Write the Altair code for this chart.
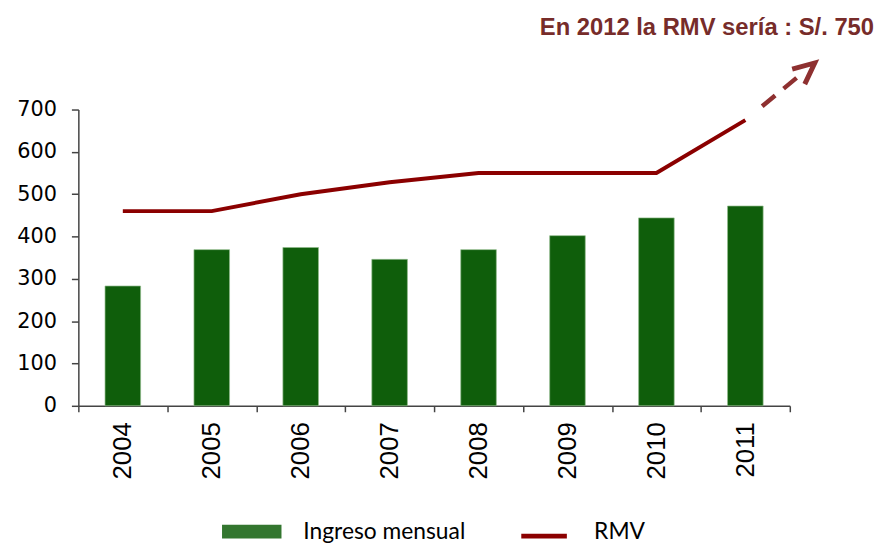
import altair as alt
import pandas as pd

# ---- data ----
years = [2004, 2005, 2006, 2007, 2008, 2009, 2010, 2011]
ingreso = [283, 369, 374, 346, 369, 402, 444, 472]
rmv = [460, 460, 500, 528, 550, 550, 550, 675]
proj_years = [2011, 2011.78]
proj_values = [675, 810]
y_ticks = [0, 100, 200, 300, 400, 500, 600, 700]
x_edges = [2003.5, 2004.5, 2005.5, 2006.5, 2007.5, 2008.5, 2009.5, 2010.5, 2011.5]
series_bar = ["Ingreso mensual"]
series_line = ["RMV"]
title_text = "En 2012 la RMV sería : S/. 750"

bars_df = pd.DataFrame({"year": years, "value": ingreso, "serie": series_bar[0]})
line_df = pd.DataFrame({"year": years, "value": rmv, "serie": series_line[0]})
proj_df = pd.DataFrame({"year": proj_years, "value": proj_values})
head_df = proj_df.tail(1)

x_scale = alt.Scale(domain=[x_edges[0], x_edges[-1]], nice=False, zero=False)
y_scale = alt.Scale(domain=[0, 700], nice=False)

x_axis = alt.Axis(
    values=x_edges,
    labelExpr="datum.value > 2011 ? '' : format(datum.value + 0.5, 'd')",
    labelOffset=44.875, labelAngle=270, labelFlush=False, labelOverlap=False,
    labelFont="Liberation Sans", labelFontSize=26, labelColor="#000000",
    labelPadding=10, tickSize=6, tickColor="#444444", tickWidth=1.5,
    domainColor="#444444", domainWidth=1.5, grid=False, title=None,
)
y_axis = alt.Axis(
    values=y_ticks, labelFont="DejaVu Sans", labelFontSize=21, labelColor="#000000",
    labelPadding=15, tickSize=7, tickColor="#444444", tickWidth=1.5,
    domainColor="#444444", domainWidth=1.5, grid=False, title=None,
)

bars = alt.Chart(bars_df).transform_calculate(
    x0="datum.year - 0.2", x1="datum.year + 0.2"
).mark_bar(stroke="#8fb98a", strokeWidth=1, strokeOpacity=0.7).encode(
    x=alt.X("x0:Q", scale=x_scale, axis=x_axis),
    x2="x1:Q",
    y=alt.Y("value:Q", scale=y_scale, axis=y_axis),
    y2=alt.datum(0),
    fill=alt.Fill("serie:N", scale=alt.Scale(domain=series_bar, range=["#0f5e0b"]),
                  legend=alt.Legend(
                      title=None, orient="none", legendX=145, legendY=396,
                      symbolType="M-1,-0.233H1V0.233H-1Z", symbolSize=3600,
                      symbolStrokeWidth=0, symbolOpacity=0.85,
                      labelFont="Lato", labelFontSize=23,
                      labelLimit=400, labelColor="#000000", labelOffset=22, padding=0)),
)

line = alt.Chart(line_df).mark_line(strokeWidth=4).encode(
    x=alt.X("year:Q", scale=x_scale),
    y=alt.Y("value:Q", scale=y_scale),
    stroke=alt.Stroke("serie:N", scale=alt.Scale(domain=series_line, range=["#8b0000"]),
                      legend=alt.Legend(
                          title=None, orient="none", legendX=444.5, legendY=400.5,
                          symbolType="M-1,0.196H1", symbolSize=2116,
                          symbolStrokeWidth=5,
                          labelFont="Lato", labelFontSize=23, labelLimit=400,
                          labelColor="#000000", labelOffset=25, padding=0)),
)

arrow = alt.Chart(proj_df).mark_line(
    color="#8e3030", strokeWidth=4.5, strokeDash=[0, 22, 17, 11, 17, 100]
).encode(
    x=alt.X("year:Q", scale=x_scale),
    y=alt.Y("value:Q", scale=y_scale),
)

head = alt.Chart(head_df).mark_point(
    shape="M-0.42,0.91L0,0L0.42,0.91", filled=False, color="#8e3030",
    strokeWidth=5, size=2209, angle=50, opacity=1, strokeJoin="miter"
).encode(
    x=alt.X("year:Q", scale=x_scale),
    y=alt.Y("value:Q", scale=y_scale),
)

chart = alt.layer(bars, line, arrow, head).properties(
    width=718, height=299,
    padding={"left": 71, "top": 100, "right": 89, "bottom": 137},
    autosize=alt.AutoSizeParams(type="none"),
    title=alt.TitleParams(
        title_text, anchor="end", orient="top", frame="group", dx=85, dy=34,
        offset=28, fontSize=24, font="Liberation Sans", fontWeight="bold",
        color="#772c2a", baseline="alphabetic",
    ),
).configure(background="#ffffff").configure_view(stroke=None)

chart.save("out.html", embed_options={"renderer": "svg", "actions": False})
